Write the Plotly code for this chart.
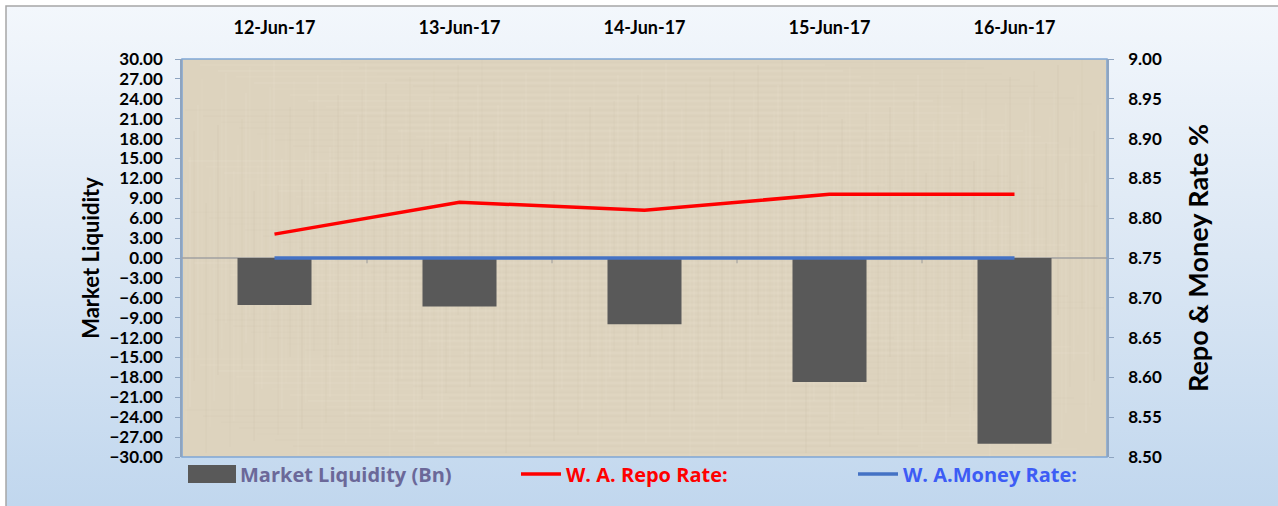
import base64
import plotly.graph_objects as go

# ---- data ----
dates = ["12-Jun-17", "13-Jun-17", "14-Jun-17", "15-Jun-17", "16-Jun-17"]
market_liquidity = [-7.1, -7.3, -10.0, -18.7, -28.0]
repo_rate = [8.78, 8.82, 8.81, 8.83, 8.83]
money_rate = [8.75, 8.75, 8.75, 8.75, 8.75]
left_ticks = [-30 + 3 * i for i in range(21)]
right_ticks = [8.50 + 0.05 * i for i in range(11)]

FONT = "Lato"
LEG_FONT = "Open Sans"

# plot-area geometry (pixels) used for paper-coordinate conversions
L, R, T, B = 182, 1107, 59, 457
W, H = R - L, B - T


def xp(px):
    return (px - L) / W


def yp(py):
    return (B - py) / H


def svg_uri(svg):
    return "data:image/svg+xml;base64," + base64.b64encode(svg.encode()).decode()


# page gradient image
grad_svg = (
    "<svg xmlns='http://www.w3.org/2000/svg' width='1272' height='500' viewBox='0 0 1272 500' preserveAspectRatio='none'>"
    "<defs><linearGradient id='g' x1='0' y1='0' x2='0' y2='1'>"
    "<stop offset='0' stop-color='#f3f7fc'/><stop offset='0.5' stop-color='#dbe7f4'/>"
    "<stop offset='1' stop-color='#c1d7ee'/></linearGradient></defs>"
    "<rect width='1272' height='500' fill='url(#g)'/></svg>"
)

# canvas-like texture for the plot area (deterministic weave pattern)
tex = ["<svg xmlns='http://www.w3.org/2000/svg' width='925' height='398' viewBox='0 0 925 398' preserveAspectRatio='none'>",
       "<rect width='925' height='398' fill='#ddd3be'/>"]
for j in range(0, 398, 3):
    op = 0.10 + 0.10 * ((j * 7) % 5) / 4
    col = "#f2ebdc" if (j // 3) % 2 == 0 else "#c9bea6"
    x0 = (j * 53) % 300
    tex.append("<line x1='%d' y1='%d' x2='%d' y2='%d' stroke='%s' stroke-width='1' opacity='%.2f'/>"
               % (x0, j, x0 + 625, j, col, op))
for i in range(0, 925, 4):
    op = 0.08 + 0.14 * ((i * 13) % 7) / 6
    col = "#efe7d6" if (i // 4) % 3 else "#bfb49b"
    y0 = (i * 31) % 150
    tex.append("<line x1='%d' y1='%d' x2='%d' y2='%d' stroke='%s' stroke-width='1' opacity='%.2f'/>"
               % (i, y0, i, y0 + 250, col, op))
tex.append("</svg>")
tex_svg = "".join(tex)

fig = go.Figure()

fig.add_trace(go.Bar(
    x=dates, y=market_liquidity, name="<span style='color:#6b6899'>Market Liquidity (Bn)</span>",
    marker=dict(color="#595959", line=dict(width=0)), width=0.4, yaxis="y", legend="legend",
))
fig.add_trace(go.Scatter(
    x=dates, y=repo_rate, name="<span style='color:#ff0000'>W. A. Repo Rate:</span>",
    mode="lines", line=dict(color="#ff0000", width=3.5), yaxis="y2", legend="legend2",
))
fig.add_trace(go.Scatter(
    x=dates, y=money_rate, name="<span style='color:#3d5cf5'>W. A.Money Rate:</span>",
    mode="lines", line=dict(color="#4472c4", width=3.5), yaxis="y2", legend="legend3",
))

images = [
    dict(source=svg_uri(grad_svg), xref="paper", yref="paper", x=xp(6), y=yp(6),
         sizex=xp(1278) - xp(6), sizey=yp(6) - yp(506), xanchor="left", yanchor="top",
         sizing="stretch", layer="below"),
    dict(source=svg_uri(tex_svg), xref="paper", yref="paper", x=0, y=1, sizex=1, sizey=1,
         xanchor="left", yanchor="top", sizing="stretch", layer="below"),
]

shapes = []
shapes.append(dict(type="rect", xref="paper", yref="paper", layer="below",
                   x0=xp(6), x1=xp(1300), y0=yp(520), y1=yp(6),
                   fillcolor="rgba(0,0,0,0)", line=dict(color="#a6a6a6", width=1.5)))
shapes.append(dict(type="rect", xref="paper", yref="paper", layer="below",
                   x0=0, x1=1, y0=0, y1=1,
                   fillcolor="rgba(0,0,0,0)", line=dict(color="#7fa7d6", width=1.5)))
# category axis line at zero with small ticks between categories
shapes.append(dict(type="line", xref="paper", yref="y", layer="below",
                   x0=0, x1=1, y0=0, y1=0, line=dict(color="#a0a0a0", width=1.5)))
for i in range(len(dates) - 1):
    shapes.append(dict(type="line", xref="x", yref="y", layer="below",
                       x0=i + 0.5, x1=i + 0.5, y0=0, y1=-0.8, line=dict(color="#9a9a9a", width=1)))
# wide legend swatch for the bar series
shapes.append(dict(type="rect", xref="paper", yref="paper", layer="above",
                   x0=xp(188), x1=xp(236), y0=yp(483), y1=yp(465),
                   fillcolor="#595959", line=dict(width=0)))

leg_common = dict(orientation="h", yanchor="middle", xanchor="left", bgcolor="rgba(0,0,0,0)",
                  font=dict(family=LEG_FONT, size=20, color="#6b6899", weight="bold"),
                  itemwidth=40)

axis_font = dict(family=FONT, size=17, weight="bold", color="#000")

fig.update_layout(
    width=1278, height=506,
    margin=dict(l=L, r=1278 - R, t=T, b=506 - B, autoexpand=False),
    paper_bgcolor="white", plot_bgcolor="rgba(0,0,0,0)",
    font=dict(family=FONT, color="#000000"),
    shapes=shapes, images=images,
    showlegend=True,
    legend=dict(x=xp(190), y=yp(474), **leg_common),
    legend2=dict(x=xp(516), y=yp(474), **leg_common),
    legend3=dict(x=xp(853), y=yp(474), **leg_common),
    xaxis=dict(type="category", side="top", showgrid=False, zeroline=False, showline=False,
               automargin=False, ticks="outside", ticklen=17, tickcolor="rgba(0,0,0,0)",
               tickfont=dict(family=FONT, size=18, weight="bold", color="#000"),
               categoryorder="array", categoryarray=dates),
    yaxis=dict(range=[-30, 30], tickvals=left_ticks, tickformat=".2f", showgrid=False, zeroline=False,
               automargin=False, showline=True, linecolor="#8ea4c0", linewidth=1.5,
               ticks="outside", ticklen=5, ticklabelstandoff=9,
               tickcolor="#8ea4c0", tickfont=axis_font,
               title=dict(text="Market Liquidity", standoff=4,
                          font=dict(family=FONT, size=22, weight="bold", color="#000"))),
    yaxis2=dict(range=[8.5, 9.0], tickvals=right_ticks, tickformat=".2f", ticksuffix="%",
                overlaying="y", side="right", showgrid=False, zeroline=False,
                automargin=False, showline=True, linecolor="#8ea4c0", linewidth=1.5,
                ticks="outside", ticklen=5, ticklabelstandoff=11,
                tickcolor="#8ea4c0", tickfont=axis_font,
                title=dict(text="Repo & Money Rate %", standoff=28,
                           font=dict(family=FONT, size=27, weight="bold", color="#000"))),
)

fig.write_html("out.html", config={"displayModeBar": False},
               post_script="document.body.style.margin='0';document.body.style.overflow='hidden';")
